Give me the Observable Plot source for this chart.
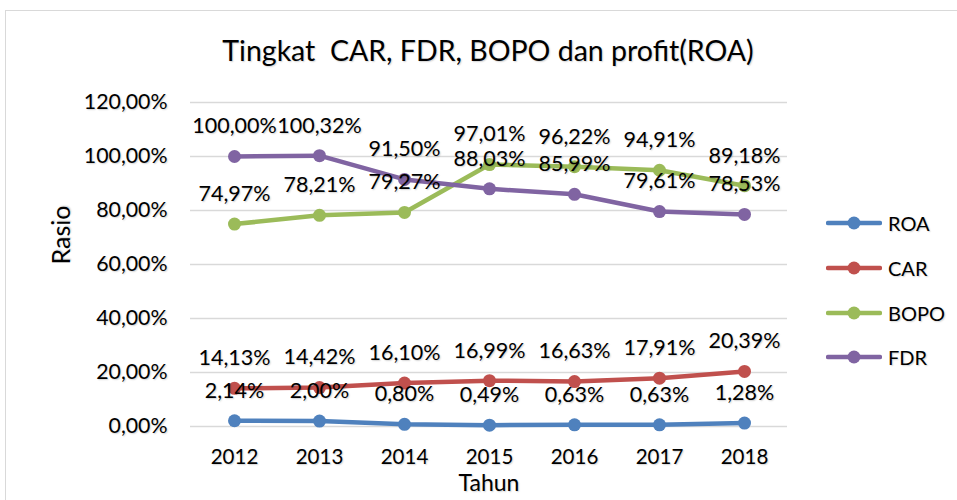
<!DOCTYPE html>
<html>
<head>
<meta charset="utf-8">
<script src="https://cdn.jsdelivr.net/npm/d3@7"></script>
<script src="https://cdn.jsdelivr.net/npm/@observablehq/plot@0.6"></script>
<style>
  html, body { margin: 0; padding: 0; background: #fff; overflow: hidden; }
  #wrap { position: relative; width: 957px; height: 500px; font-family: Lato, "Noto Sans", sans-serif; color: #000; }
  #frame { position: absolute; left: 5px; top: 10px; width: 1200px; height: 800px; border: 1.5px solid #d9d9d9; box-sizing: border-box; }
  #title { position: absolute; left: 0; top: 33px; width: 976px; text-align: center; font-size: 28.5px; line-height: 34px; white-space: pre; }
  #chart { position: absolute; left: 0; top: 0; }
  #legend { position: absolute; left: 826px; top: 201px; }
  .lrow { display: flex; align-items: center; height: 44.7px; font-size: 20px; }
  .lrow svg { margin-right: 6px; }
  #wrap text, #wrap span, #title { text-shadow: 1px 1px 1.5px rgba(0,0,0,0.18); }
</style>
</head>
<body>
<div id="wrap">
  <div id="frame"></div>
  <div id="chart"></div>
  <div id="title"></div>
  <div id="legend"></div>
</div>
<script>
const titleText = "Tingkat  CAR, FDR, BOPO dan profit(ROA)";
const xTitle = "Tahun";
const yTitle = "Rasio";
const years = ["2012", "2013", "2014", "2015", "2016", "2017", "2018"];
const roa  = [2.14, 2.00, 0.80, 0.49, 0.63, 0.63, 1.28];
const car  = [14.13, 14.42, 16.10, 16.99, 16.63, 17.91, 20.39];
const bopo = [74.97, 78.21, 79.27, 97.01, 96.22, 94.91, 89.18];
const fdr  = [100.00, 100.32, 91.50, 88.03, 85.99, 79.61, 78.53];
const seriesNames = ["ROA", "CAR", "BOPO", "FDR"];
const seriesColors = ["#4F81BD", "#C0504D", "#9BBB59", "#8064A2"];
const yTicks = [0, 20, 40, 60, 80, 100, 120];

const seriesValues = [roa, car, bopo, fdr];
const data = [];
seriesNames.forEach((s, si) => {
  years.forEach((y, i) => data.push({ series: s, year: y, value: seriesValues[si][i] }));
});
const fmt = v => v.toFixed(2).replace(".", ",") + "%";

document.getElementById("title").textContent = titleText;

const chart = Plot.plot({
  width: 957,
  height: 500,
  marginLeft: 190,
  marginRight: 170,
  marginTop: 102,
  marginBottom: 74,
  style: { fontFamily: "Lato, 'Noto Sans', sans-serif", fontSize: "20px", color: "#000", background: "transparent", overflow: "visible" },
  x: { type: "point", domain: years, padding: 0.5, label: null },
  y: { domain: [0, 120], label: null },
  color: { domain: seriesNames, range: seriesColors },
  marks: [
    Plot.ruleY(yTicks, { stroke: "#d9d9d9", strokeWidth: 1.5 }),
    Plot.axisY({ ticks: yTicks, tickSize: 0, tickPadding: 23, tickFormat: fmt, fontSize: 21.3, label: null }),
    Plot.axisX({ tickSize: 0, tickPadding: 23, fontSize: 20.5, label: null }),
    Plot.line(data, { x: "year", y: "value", z: "series", stroke: "series", strokeWidth: 4.5, strokeLinejoin: "round", strokeLinecap: "round" }),
    Plot.dot(data, { x: "year", y: "value", fill: "series", r: 6.5 }),
    Plot.text(data, { x: "year", y: "value", text: d => fmt(d.value), dy: -30, fontSize: 21.5, fill: "#000" }),
    Plot.text([xTitle], { frameAnchor: "bottom", dy: 64, fontSize: 23, fill: "#000" }),
    Plot.text([yTitle], { frameAnchor: "left", dx: -129, rotate: -90, fontSize: 25, fill: "#000" })
  ]
});
document.getElementById("chart").appendChild(chart);

const legend = document.getElementById("legend");
seriesNames.forEach((s, i) => {
  const row = document.createElement("div");
  row.className = "lrow";
  row.innerHTML = `<svg width="56" height="20"><line x1="2" y1="10" x2="54" y2="10" stroke="${seriesColors[i]}" stroke-width="4.5" stroke-linecap="round"/><circle cx="28" cy="10" r="6.5" fill="${seriesColors[i]}"/></svg><span>${s}</span>`;
  legend.appendChild(row);
});
</script>
</body>
</html>
